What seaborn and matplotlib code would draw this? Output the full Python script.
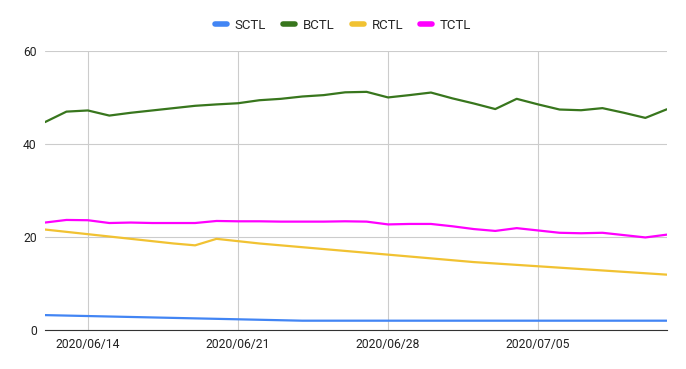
import matplotlib
matplotlib.use("Agg")
import matplotlib.pyplot as plt
import matplotlib.dates as mdates
import seaborn as sns
import pandas as pd

# datos (06/12 a 07/11)
fechas = pd.date_range("2020-06-12", "2020-07-11", freq="D")
series = ["SCTL", "BCTL", "RCTL", "TCTL"]
colores = ["#4285F4", "#38761D", "#F1C232", "#FF00FF"]

sctl = [3.2, 3.1, 3.0, 2.9, 2.8, 2.7, 2.6, 2.5, 2.4, 2.3, 2.2, 2.1, 2.0, 2.0, 2.0,
        2.0, 2.0, 2.0, 2.0, 2.0, 2.0, 2.0, 2.0, 2.0, 2.0, 2.0, 2.0, 2.0, 2.0, 2.0]
bctl = [44.7, 46.95, 47.2, 46.1, 46.7, 47.2, 47.7, 48.2, 48.5, 48.75, 49.4, 49.7, 50.2, 50.5, 51.1,
        51.2, 50.0, 50.5, 51.05, 49.8, 48.7, 47.5, 49.7, 48.5, 47.4, 47.25, 47.7, 46.7, 45.6, 47.45]
rctl = [21.6, 21.1, 20.6, 20.1, 19.6, 19.1, 18.6, 18.2, 19.6, 19.1, 18.6, 18.2, 17.8, 17.4, 17.0,
        16.6, 16.2, 15.8, 15.4, 15.0, 14.6, 14.3, 14.0, 13.7, 13.4, 13.1, 12.8, 12.5, 12.2, 11.9]
tctl = [23.1, 23.66, 23.6, 23.0, 23.1, 23.0, 23.0, 23.0, 23.44, 23.37, 23.37, 23.3, 23.3, 23.3, 23.37,
        23.3, 22.7, 22.8, 22.8, 22.3, 21.7, 21.3, 21.9, 21.4, 20.9, 20.8, 20.9, 20.4, 19.9, 20.5]

df = pd.DataFrame({"fecha": fechas, "SCTL": sctl, "BCTL": bctl, "RCTL": rctl, "TCTL": tctl})
df_largo = df.melt(id_vars="fecha", var_name="serie", value_name="valor")

sns.set_style("white")
plt.rcParams["font.family"] = ["Roboto", "DejaVu Sans"]

fig = plt.figure(figsize=(6.86, 3.69), dpi=100)
ax = fig.add_axes([0.0656, 0.1057, 0.9064, 0.7563])

sns.lineplot(data=df_largo, x="fecha", y="valor", hue="serie", hue_order=series,
             palette=colores, linewidth=1.6, ax=ax, legend=False)

ax.set_ylim(0, 60)
ax.set_yticks([0, 20, 40, 60])
ax.set_xlim(fechas[0], fechas[-1])
ax.set_xticks(pd.to_datetime(["2020-06-14", "2020-06-21", "2020-06-28", "2020-07-05"]))
ax.xaxis.set_major_formatter(mdates.DateFormatter("%Y/%m/%d"))
ax.grid(True, color="#cccccc", linewidth=0.8)
ax.set_xlabel("")
ax.set_ylabel("")
for lado in ["top", "right", "left"]:
    ax.spines[lado].set_visible(False)
ax.spines["bottom"].set_color("#333333")
ax.tick_params(axis="both", length=0, labelsize=8.7, colors="#222222")
ax.tick_params(axis="y", pad=6)
ax.tick_params(axis="x", pad=6)

handles = [plt.Line2D([0], [0], color=c, linewidth=4) for c in colores]
fig.legend(handles, series, loc="center", bbox_to_anchor=(0.5, 0.932), ncol=4,
           frameon=False, fontsize=9.5, handlelength=0.9, columnspacing=1.3, handletextpad=0.6)

fig.savefig("out.png", dpi=100)
plt.close()
